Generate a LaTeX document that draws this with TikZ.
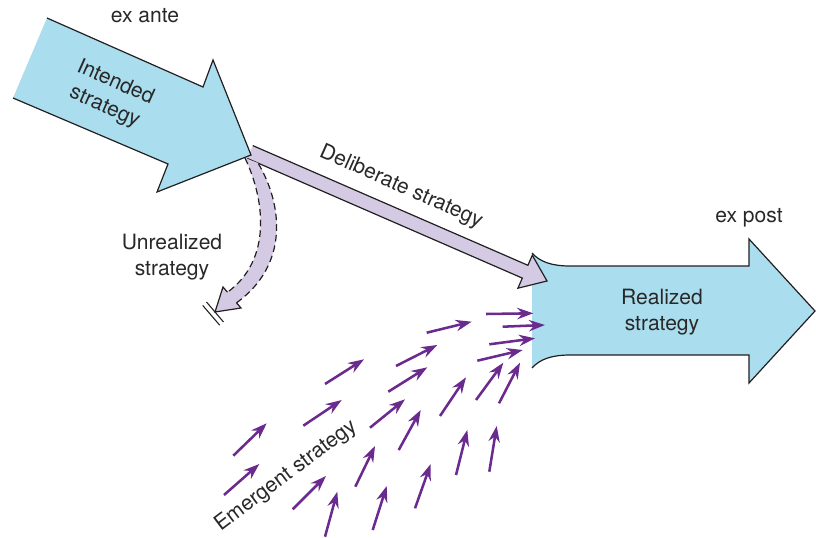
\documentclass[tikz,border=0pt]{standalone}
\usepackage{fontspec}
\setmainfont{TeX Gyre Heros}
\usetikzlibrary{arrows.meta}
\definecolor{bluefill}{RGB}{170,221,238}
\definecolor{lavfill}{RGB}{212,202,228}
\definecolor{emgpurple}{RGB}{106,42,142}
\definecolor{outl}{RGB}{35,31,32}
\definecolor{txt}{RGB}{40,40,40}
\tikzset{
  lbl/.style={text=txt, font=\fontsize{15.8}{20}\selectfont, align=center, inner sep=0pt},
  outline/.style={draw=outl, line width=0.9pt, line join=miter},
  emg/.style={draw=emgpurple, line width=1.9pt, -{Stealth[length=12pt,width=8.5pt,inset=4pt]}},
}
\begin{document}
\begin{tikzpicture}[x=0.75pt,y=-0.75pt]
\useasboundingbox (0,0) rectangle (816,538);

% Realized strategy arrow
\fill[bluefill] (532,253) .. controls (540,262) and (552,266) .. (570,266) -- (749,266) -- (749,239) -- (815,311) -- (749,383) -- (749,355) -- (570,355) .. controls (552,355) and (540,359) .. (532,368) -- cycle;
\draw[outline] (532,253) .. controls (540,262) and (552,266) .. (570,266) -- (749,266) -- (749,239) -- (815,311) -- (749,383) -- (749,355) -- (570,355) .. controls (552,355) and (540,359) .. (532,368);

% Deliberate strategy arrow
\fill[lavfill] (252.8,145.6) -- (527.9,265.3) -- (532.3,255.2) -- (547,281) -- (517.9,288.2) -- (522.3,278.1) -- (247.2,158.4) -- cycle;
\draw[outline] (252.8,145.6) -- (527.9,265.3) -- (532.3,255.2) -- (547,281) -- (517.9,288.2) -- (522.3,278.1) -- (247.2,158.4);

% Unrealized strategy arrow
\fill[lavfill] (245,158) .. controls (265,200) and (272,260) .. (227.5,292.2) -- (223,287) -- (215,312) -- (241,308) -- (236.5,302.8) .. controls (289,265) and (283,205) .. (258,163) -- cycle;
\draw[outl, line width=0.9pt, dash pattern=on 5pt off 3pt] (245,158) .. controls (265,200) and (272,260) .. (227.5,292.2);
\draw[outl, line width=0.9pt, dash pattern=on 5pt off 3pt] (236.5,302.8) .. controls (289,265) and (283,205) .. (258,163);
\draw[outline] (227.5,292.2) -- (223,287) -- (215,312) -- (241,308) -- (236.5,302.8);
\draw[outl, line width=0.8pt] (206.5,302) -- (223.5,322);
\draw[outl, line width=0.8pt] (202.7,305.4) -- (219.7,325.2);

% Intended strategy arrow
\fill[bluefill] (47,18) -- (203,87) -- (213,60) -- (251,155) -- (157,192) -- (168,164) -- (13,98) -- cycle;
\draw[outline] (47,18) -- (203,87) -- (213,60) -- (251,155) -- (157,192) -- (168,164) -- (13,98);

% Emergent arrows
\foreach \a/\b/\c/\d in {
 426.7/332.7/471.7/321.7, 486/314/533.3/313.3, 502.7/326.7/545/325,
 489.3/344.3/535/338.3, 477.3/360.7/522.7/350, 396/366/437.3/345,
 325/384/364/359.3, 388.3/391.7/427.3/367.3, 476/400/503.3/362.7,
 499/403.3/520/362.7, 440/416/466/377.3, 303.3/425.7/341.7/400,
 370/427.7/405/399.3, 398.7/450/420.7/410, 233.3/455.7/266.7/423.3,
 489.3/471.7/496.7/426, 456/475/467.3/430, 355.3/486.7/375/446,
 224/495/259.3/464, 292.7/509.3/326/476, 415/508.3/430.7/464,
 372.7/530/386.7/486, 325/536.7/337.3/491.7}
 \draw[emg] (\a,\b) -- (\c,\d);

% Labels
\node[lbl] (exante) at (145,16) {ex ante};
\node[lbl] (expost) at (749,218) {ex post};
\node[lbl, rotate=-24] (intended) at (110,95) {Intended\\strategy};
\node[lbl, rotate=-24] (deliberate) at (401,187) {Deliberate strategy};
\node[lbl] (unrealized) at (172,257) {Unrealized\\strategy};
\node[lbl] (realized) at (662,312) {Realized\\strategy};
\node[lbl, rotate=37] (emergent) at (286,476) {Emergent strategy};
\end{tikzpicture}
\end{document}
